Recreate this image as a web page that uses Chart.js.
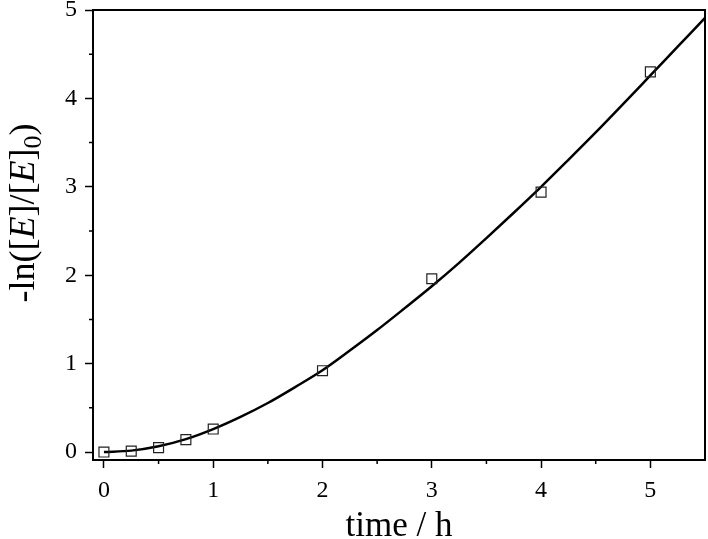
<!DOCTYPE html>
<html>
<head>
<meta charset="utf-8">
<script src="https://cdn.jsdelivr.net/npm/chart.js@4.4.0/dist/chart.umd.min.js"></script>
<style>
  html, body { margin: 0; padding: 0; background: #fff; }
  #wrap { width: 708px; height: 539px; }
</style>
</head>
<body>
<div id="wrap"><canvas id="chart"></canvas></div>
<script>
// measured points
const timeH = [0, 0.25, 0.5, 0.75, 1, 2, 3, 4, 5];
const lnRatio = [0, 0.01, 0.05, 0.14, 0.26, 0.92, 1.96, 2.94, 4.30];

// fitted curve
const fitTime = [0, 0.25, 0.5, 0.75, 1, 1.25, 1.5, 1.75, 2, 2.25, 2.5, 2.75, 3,
                 3.25, 3.5, 3.75, 4, 4.25, 4.5, 4.75, 5, 5.25, 5.5];
const fitValue = [0, 0.016, 0.065, 0.146, 0.26, 0.398, 0.555, 0.735, 0.925, 1.148, 1.38, 1.625, 1.875,
                  2.14, 2.42, 2.707, 3.0, 3.305, 3.615, 3.935, 4.26, 4.585, 4.91];

// axis ticks
const xTicks = [0, 1, 2, 3, 4, 5];
const yTicks = [0, 1, 2, 3, 4, 5];
const xMinor = [0.5, 1.5, 2.5, 3.5, 4.5];
const yMinor = [0.5, 1.5, 2.5, 3.5, 4.5];

const serif = "'Liberation Serif', 'Times New Roman', serif";

// рамка, малые риски и подпись оси Y
const framePlugin = {
    id: 'framePlugin',
    afterDraw(chart) {
        const { ctx, chartArea: a, scales: { x, y } } = chart;
        ctx.save();
        ctx.strokeStyle = '#000';
        ctx.lineWidth = 2;
        ctx.strokeRect(a.left, a.top, a.right - a.left, a.bottom - a.top);

        ctx.lineWidth = 1.5;
        ctx.beginPath();
        xMinor.forEach(v => {
            const px = x.getPixelForValue(v);
            ctx.moveTo(px, a.bottom);
            ctx.lineTo(px, a.bottom + 4);
        });
        yMinor.forEach(v => {
            const py = y.getPixelForValue(v);
            ctx.moveTo(a.left, py);
            ctx.lineTo(a.left - 4, py);
        });
        ctx.stroke();

        // -ln([E]/[E]0)
        const parts = [
            { t: '-ln([', f: '36px ' + serif, dy: 0 },
            { t: 'E', f: 'italic 36px ' + serif, dy: 0 },
            { t: ']/[', f: '36px ' + serif, dy: 0 },
            { t: 'E', f: 'italic 36px ' + serif, dy: 0 },
            { t: ']', f: '36px ' + serif, dy: 0 },
            { t: '0', f: '26px ' + serif, dy: 7 },
            { t: ')', f: '36px ' + serif, dy: 0 }
        ];
        let total = 0;
        parts.forEach(p => { ctx.font = p.f; p.w = ctx.measureText(p.t).width; total += p.w; });
        ctx.translate(34, 213);
        ctx.rotate(-Math.PI / 2);
        ctx.fillStyle = '#000';
        ctx.textBaseline = 'alphabetic';
        let cx = -total / 2;
        parts.forEach(p => {
            ctx.font = p.f;
            ctx.fillText(p.t, cx, p.dy);
            cx += p.w;
        });
        ctx.restore();
    }
};

const ctx = document.getElementById('chart').getContext('2d');

new Chart(ctx, {
    type: 'scatter',
    data: {
        datasets: [
            {
                label: 'fit',
                data: fitTime.map((t, i) => ({ x: t, y: fitValue[i] })),
                showLine: true,
                borderColor: '#000',
                borderWidth: 2.5,
                pointRadius: 0,
                cubicInterpolationMode: 'monotone',
                order: 2
            },
            {
                label: 'data',
                data: timeH.map((t, i) => ({ x: t, y: lnRatio[i] })),
                pointStyle: 'rect',
                pointRadius: 7,
                pointBorderWidth: 1.2,
                pointBorderColor: '#222',
                pointBackgroundColor: 'rgba(0,0,0,0)',
                order: 1
            }
        ]
    },
    options: {
        responsive: true,
        maintainAspectRatio: false,
        animation: false,
        layout: { autoPadding: false, padding: { left: 0, right: 3, top: 10, bottom: 0 } },
        plugins: {
            legend: { display: false },
            tooltip: { enabled: false }
        },
        scales: {
            x: {
                type: 'linear',
                min: -0.1,
                max: 5.5,
                afterBuildTicks: s => { s.ticks = xTicks.map(v => ({ value: v })); },
                afterFit: s => { s.height = 79; s.paddingLeft = 0; s.paddingRight = 0; },
                border: { display: true, color: '#000', width: 2 },
                grid: { drawOnChartArea: false, drawTicks: true, tickLength: 8, tickColor: '#000', tickWidth: 1.5 },
                ticks: { color: '#000', font: { family: serif, size: 24 }, padding: 8, maxRotation: 0 },
                title: {
                    display: true,
                    text: 'time / h',
                    color: '#000',
                    font: { family: serif, size: 35 },
                    padding: { top: 0, bottom: -9 }
                }
            },
            y: {
                type: 'linear',
                min: -0.09,
                max: 5,
                afterBuildTicks: s => { s.ticks = yTicks.map(v => ({ value: v })); },
                afterFit: s => { s.width = 93; s.paddingTop = 0; s.paddingBottom = 0; },
                border: { display: true, color: '#000', width: 2 },
                grid: { drawOnChartArea: false, drawTicks: true, tickLength: 8, tickColor: '#000', tickWidth: 1.5 },
                ticks: { color: '#000', font: { family: serif, size: 24 }, padding: 8 }
            }
        }
    },
    plugins: [framePlugin]
});
</script>
</body>
</html>
